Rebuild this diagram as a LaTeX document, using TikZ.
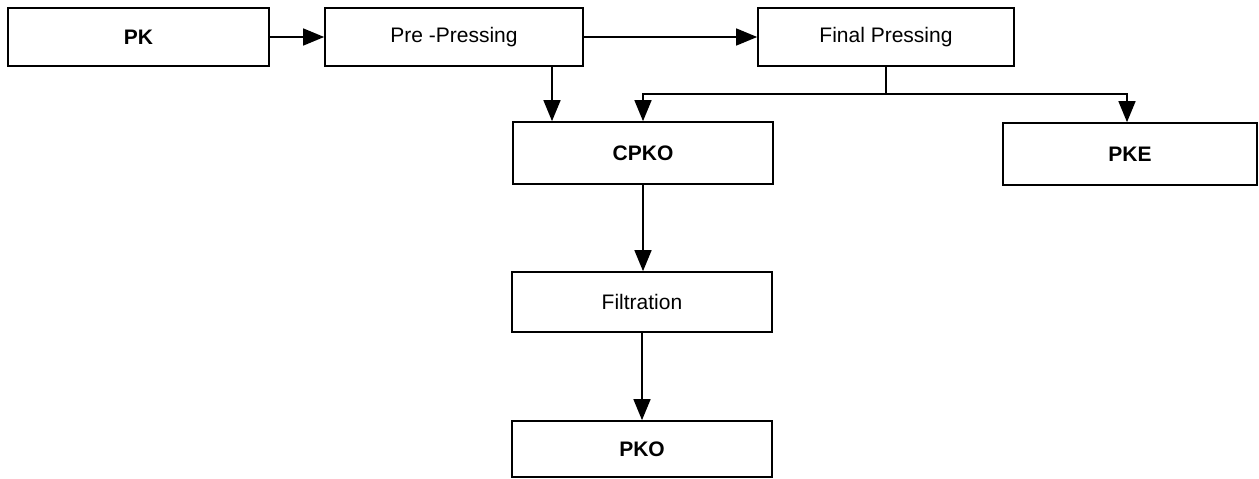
\documentclass[tikz,border=0pt]{standalone}
\usepackage{fontspec}
\setmainfont{Liberation Sans}
\usetikzlibrary{arrows.meta,calc}
\begin{document}
\begin{tikzpicture}[x=1pt,y=-1pt,
  box/.style={draw=black,line width=1.7pt,rectangle,inner sep=0pt,font=\fontsize{21}{25}\selectfont},
  bbox/.style={box,font=\fontsize{21}{25}\selectfont\bfseries},
  arr/.style={line width=1.5pt,-{Triangle[length=21pt,width=17pt]}},
  conn/.style={line width=2.2pt}]
\useasboundingbox (0,0) rectangle (1259,479);
\node[bbox,minimum width=261pt,minimum height=58pt] (pk) at (138.5,37) {PK};
\node[box,minimum width=258pt,minimum height=58pt] (pre) at (454,37) {Pre -Pressing};
\node[box,minimum width=256pt,minimum height=58pt] (fin) at (886,37) {Final Pressing};
\node[bbox,minimum width=260pt,minimum height=62pt] (cpko) at (643,153) {CPKO};
\node[bbox,minimum width=254pt,minimum height=62pt] (pke) at (1130,154) {PKE};
\node[box,minimum width=260pt,minimum height=60pt] (filt) at (642,302) {Filtration};
\node[bbox,minimum width=260pt,minimum height=56pt] (pko) at (642,449) {PKO};
\draw[arr] (pk.east) -- (pre.west);
\draw[arr] (pre.east) -- (fin.west);
\draw[arr] ([xshift=98pt]pre.south) -- ([xshift=98pt]pre.south |- cpko.north);
\draw[conn] (fin.south) -- ++(0,27) coordinate (j);
\draw[arr] (j) -| (cpko.north);
\draw[arr] (j) -| ([xshift=-3pt]pke.north);
\draw[arr] (cpko.south) -- (cpko.south |- filt.north);
\draw[arr] (filt.south) -- (filt.south |- pko.north);
\end{tikzpicture}
\end{document}
